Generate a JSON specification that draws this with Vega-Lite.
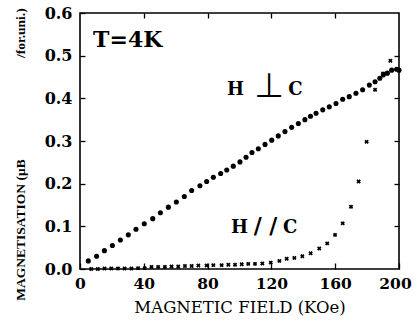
{
  "$schema": "https://vega.github.io/schema/vega-lite/v6.json",
  "width": 319,
  "height": 256,
  "autosize": {"type": "none"},
  "padding": {"left": 80, "top": 13, "right": 15, "bottom": 57},
  "background": "white",
  "config": {
    "view": {"stroke": "black", "strokeWidth": 1.6},
    "axis": {"grid": false, "domain": false, "tickColor": "black", "tickWidth": 1.3, "labelColor": "black", "titleColor": "black"}
  },
  "datasets": {
    "perp": [
      {"H": 5.2, "M": 0.019}, {"H": 10.4, "M": 0.030}, {"H": 15.3, "M": 0.043}, {"H": 20.3, "M": 0.055},
      {"H": 25.3, "M": 0.068}, {"H": 30.3, "M": 0.080}, {"H": 35.1, "M": 0.093}, {"H": 40.3, "M": 0.106},
      {"H": 45.6, "M": 0.118}, {"H": 50.4, "M": 0.132}, {"H": 55.4, "M": 0.145}, {"H": 60.4, "M": 0.157},
      {"H": 65.4, "M": 0.170}, {"H": 70.0, "M": 0.184}, {"H": 75.2, "M": 0.195}, {"H": 79.4, "M": 0.205},
      {"H": 83.6, "M": 0.215}, {"H": 88.2, "M": 0.224}, {"H": 92.0, "M": 0.232}, {"H": 96.1, "M": 0.241},
      {"H": 100.3, "M": 0.251}, {"H": 104.1, "M": 0.262}, {"H": 107.8, "M": 0.273}, {"H": 111.8, "M": 0.282},
      {"H": 116.0, "M": 0.292}, {"H": 120.2, "M": 0.302}, {"H": 124.3, "M": 0.312}, {"H": 128.5, "M": 0.322},
      {"H": 132.7, "M": 0.332}, {"H": 136.9, "M": 0.341}, {"H": 141.0, "M": 0.350}, {"H": 144.5, "M": 0.358},
      {"H": 148.0, "M": 0.365}, {"H": 152.2, "M": 0.373}, {"H": 156.3, "M": 0.380}, {"H": 160.5, "M": 0.388},
      {"H": 164.7, "M": 0.398}, {"H": 168.8, "M": 0.404}, {"H": 173.0, "M": 0.412}, {"H": 177.2, "M": 0.420},
      {"H": 181.4, "M": 0.431}, {"H": 185.0, "M": 0.439}, {"H": 188.0, "M": 0.447}, {"H": 190.2, "M": 0.455},
      {"H": 192.7, "M": 0.459}, {"H": 195.4, "M": 0.466}, {"H": 198.5, "M": 0.468}, {"H": 200.0, "M": 0.466}
    ],
    "para": [
      {"H": 7.0, "M": 0.000}, {"H": 11.2, "M": 0.000}, {"H": 15.4, "M": 0.001}, {"H": 19.6, "M": 0.001},
      {"H": 23.8, "M": 0.001}, {"H": 28.0, "M": 0.001}, {"H": 32.2, "M": 0.001}, {"H": 36.4, "M": 0.002},
      {"H": 40.6, "M": 0.002}, {"H": 44.8, "M": 0.005}, {"H": 49.0, "M": 0.005}, {"H": 53.2, "M": 0.005},
      {"H": 57.4, "M": 0.006}, {"H": 61.6, "M": 0.006}, {"H": 65.8, "M": 0.007}, {"H": 70.0, "M": 0.007},
      {"H": 74.2, "M": 0.008}, {"H": 79.4, "M": 0.008}, {"H": 83.6, "M": 0.009}, {"H": 88.8, "M": 0.009},
      {"H": 93.0, "M": 0.010}, {"H": 97.2, "M": 0.010}, {"H": 101.4, "M": 0.011}, {"H": 105.5, "M": 0.012},
      {"H": 109.7, "M": 0.012}, {"H": 114.3, "M": 0.013}, {"H": 119.6, "M": 0.015}, {"H": 125.0, "M": 0.019},
      {"H": 129.6, "M": 0.024}, {"H": 134.4, "M": 0.026}, {"H": 139.4, "M": 0.030}, {"H": 144.6, "M": 0.037},
      {"H": 150.0, "M": 0.048}, {"H": 155.0, "M": 0.060}, {"H": 159.9, "M": 0.080}, {"H": 164.7, "M": 0.107},
      {"H": 169.9, "M": 0.146}, {"H": 174.7, "M": 0.205}, {"H": 179.7, "M": 0.298}, {"H": 185.0, "M": 0.420},
      {"H": 190.0, "M": 0.458}, {"H": 194.6, "M": 0.488}
    ],
    "letters": [
      {"H": 97.5, "M": 0.408, "t": "H"}, {"H": 135.1, "M": 0.408, "t": "C"},
      {"H": 100.0, "M": 0.084, "t": "H"}, {"H": 131.7, "M": 0.084, "t": "C"}
    ],
    "perpsym": [{"H": 118.5, "M": 0.403, "t": "⊥"}],
    "slashes": [{"H": 116.3, "M": 0.084, "t": "/ /"}],
    "temp": [{"H": 8.2, "M": 0.52, "t": "T=4K"}]
  },
  "layer": [
    {
      "data": {"name": "perp"},
      "mark": {"type": "point", "shape": "circle", "filled": true, "size": 26, "color": "black", "opacity": 1},
      "encoding": {
        "x": {"field": "H", "type": "quantitative", "scale": {"domain": [0, 200], "nice": false},
          "axis": {"orient": "bottom", "values": [0, 40, 80, 120, 160, 200], "tickSize": -6, "labelPadding": 13,
            "labelOffset": {"condition": {"test": "datum.value >= 200", "value": -4}, "value": 0},
            "labelFont": "DejaVu Serif", "labelFontWeight": "bold", "labelFontSize": 15.5, "labelFlush": false,
            "title": "MAGNETIC FIELD (KOe)", "titleFont": "DejaVu Serif", "titleFontWeight": "normal", "titleFontSize": 16.5, "titlePadding": 8}},
        "y": {"field": "M", "type": "quantitative", "scale": {"domain": [0, 0.6], "nice": false},
          "axis": {"orient": "left", "values": [0, 0.1, 0.2, 0.3, 0.4, 0.5, 0.6], "format": ".1f", "tickSize": -5, "labelPadding": 13,
            "labelFont": "DejaVu Serif", "labelFontWeight": "bold", "labelFontSize": 16, "labelFlush": false,
            "title": "MAGNETISATION (μB\u00a0\u00a0\u00a0\u00a0\u00a0\u00a0\u00a0\u00a0\u00a0\u00a0\u00a0\u00a0\u00a0\u00a0\u00a0\u00a0\u00a0\u00a0\u00a0\u00a0\u00a0\u00a0\u00a0\u00a0\u00a0\u00a0\u00a0\u00a0\u00a0\u00a0/for.uni.)",
            "titleFont": "Liberation Serif", "titleFontWeight": "bold", "titleFontSize": 13.5,
            "titleX": -56, "titleY": 141, "titleBaseline": "alphabetic"}}
      }
    },
    {
      "data": {"name": "para"},
      "mark": {"type": "point", "shape": "cross", "angle": 45, "filled": true, "size": 20, "color": "black", "opacity": 1},
      "encoding": {
        "x": {"field": "H", "type": "quantitative", "scale": {"domain": [0, 200], "nice": false},
          "axis": {"orient": "top", "values": [40, 80, 120, 160], "tickSize": -5, "labels": false, "title": null}},
        "y": {"field": "M", "type": "quantitative", "scale": {"domain": [0, 0.6], "nice": false},
          "axis": {"orient": "right", "values": [0.1, 0.2, 0.3, 0.4, 0.5], "tickSize": -5, "labels": false, "title": null}}
      }
    },
    {
      "data": {"name": "letters"},
      "mark": {"type": "text", "font": "DejaVu Serif", "fontWeight": "bold", "fontSize": 18, "align": "center", "baseline": "alphabetic", "color": "black"},
      "encoding": {
        "x": {"field": "H", "type": "quantitative", "axis": null},
        "y": {"field": "M", "type": "quantitative", "axis": null},
        "text": {"field": "t"}
      }
    },
    {
      "data": {"name": "perpsym"},
      "mark": {"type": "text", "font": "DejaVu Sans", "fontSize": 34, "align": "center", "baseline": "alphabetic", "color": "black"},
      "encoding": {
        "x": {"field": "H", "type": "quantitative", "axis": null},
        "y": {"field": "M", "type": "quantitative", "axis": null},
        "text": {"field": "t"}
      }
    },
    {
      "data": {"name": "slashes"},
      "mark": {"type": "text", "font": "DejaVu Serif", "fontWeight": "bold", "fontSize": 22, "align": "center", "baseline": "alphabetic", "color": "black"},
      "encoding": {
        "x": {"field": "H", "type": "quantitative", "axis": null},
        "y": {"field": "M", "type": "quantitative", "axis": null},
        "text": {"field": "t"}
      }
    },
    {
      "data": {"name": "temp"},
      "mark": {"type": "text", "font": "DejaVu Serif", "fontWeight": "bold", "fontSize": 22, "align": "left", "baseline": "alphabetic", "color": "black"},
      "encoding": {
        "x": {"field": "H", "type": "quantitative", "axis": null},
        "y": {"field": "M", "type": "quantitative", "axis": null},
        "text": {"field": "t"}
      }
    }
  ],
  "resolve": {"axis": {"x": "independent", "y": "independent"}}
}
